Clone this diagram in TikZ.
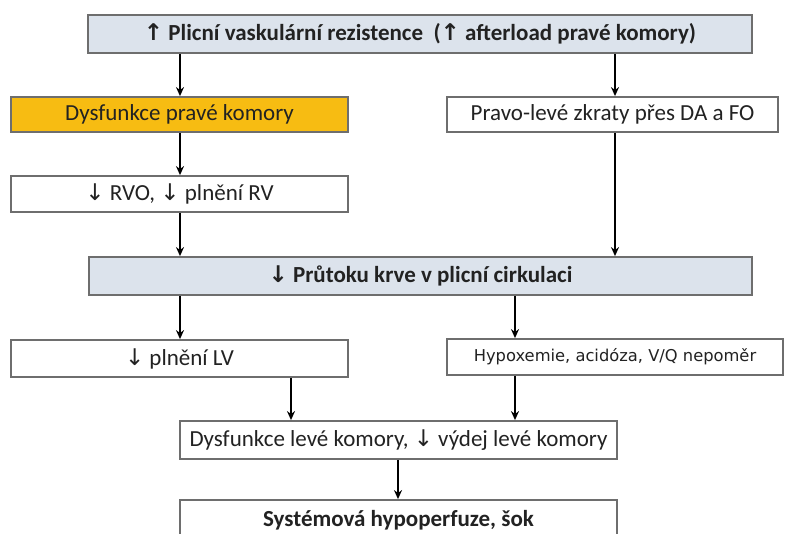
\documentclass[tikz,border=0pt]{standalone}
\usepackage{fontspec}
\setmainfont{Carlito}
\newfontfamily\djv{DejaVu Sans}
\usetikzlibrary{arrows.meta}
\definecolor{boxblue}{HTML}{DCE3EC}
\definecolor{boxorange}{HTML}{F7BC12}
\definecolor{boxline}{HTML}{6E6E6E}
\definecolor{txt}{HTML}{222222}
\newcommand{\upa}{{\djv\char"2191}}
\newcommand{\dna}{{\djv\char"2193}}
\newcommand{\bigfont}{\fontsize{23}{26}\selectfont}
\tikzset{
  box/.style={draw=boxline, line width=1.8pt, fill=white, rectangle, inner sep=0pt,
    text=txt, font=\bigfont},
  boldbox/.style={box, font=\bigfont\bfseries},
  arr/.style={line width=1.9pt, -{Stealth[length=9pt,width=8pt]}}
}
\begin{document}
\begin{tikzpicture}[x=1pt,y=-1pt]
\useasboundingbox (0,0) rectangle (794,534);
\clip (0,0) rectangle (794,534);
\fill[white] (0,0) rectangle (794,534);
% x positions of connectors
\coordinate (xa) at (180,0);
\coordinate (xb) at (615,0);
\coordinate (xc) at (515,0);
\coordinate (xd) at (291,0);
\coordinate (xe) at (398,0);
\node[boldbox, fill=boxblue, minimum width=664pt, minimum height=38pt] (top) at (420,34) {\upa{} Plicní vaskulární rezistence~~(\upa{} afterload pravé komory)};
\node[box, fill=boxorange, minimum width=337pt, minimum height=35pt] (rvd) at (179.5,114.5) {Dysfunkce pravé komory};
\node[box, minimum width=331pt, minimum height=35pt] (shunt) at (612.5,114.5) {Pravo-levé zkraty přes DA a FO};
\node[box, minimum width=337pt, minimum height=36pt] (rvo) at (179.5,194) {\dna{} RVO, \dna{} plnění RV};
\node[boldbox, fill=boxblue, minimum width=663pt, minimum height=38pt] (flow) at (420.5,276) {\dna{} Průtoku krve v plicní cirkulaci};
\node[box, minimum width=337pt, minimum height=37pt] (lv) at (179.5,358.5) {\dna{} plnění LV};
\node[box, minimum width=336pt, minimum height=36pt, font=\djv\fontsize{16.3}{18}\selectfont] (hyp) at (615,357) {Hypoxemie, acidóza, V/Q nepoměr};
\node[box, minimum width=437pt, minimum height=38pt] (lvd) at (398.5,440) {Dysfunkce levé komory, \dna{} výdej levé komory};
\node[boldbox, minimum width=437pt, minimum height=40pt] (shock) at (398.5,520) {Systémová hypoperfuze, šok};
% connectors
\draw[arr] (top.south -| xa) -- (rvd.north -| xa);
\draw[arr] (top.south -| xb) -- (shunt.north -| xb);
\draw[arr] (rvd.south -| xa) -- (rvo.north -| xa);
\draw[arr] (rvo.south -| xa) -- (flow.north -| xa);
\draw[arr] (shunt.south -| xb) -- (flow.north -| xb);
\draw[arr] (flow.south -| xa) -- (lv.north -| xa);
\draw[arr] (flow.south -| xc) -- (hyp.north -| xc);
\draw[arr] (lv.south -| xd) -- (lvd.north -| xd);
\draw[arr] (hyp.south -| xc) -- (lvd.north -| xc);
\draw[arr] (lvd.south -| xe) -- (shock.north -| xe);
\end{tikzpicture}
\end{document}
